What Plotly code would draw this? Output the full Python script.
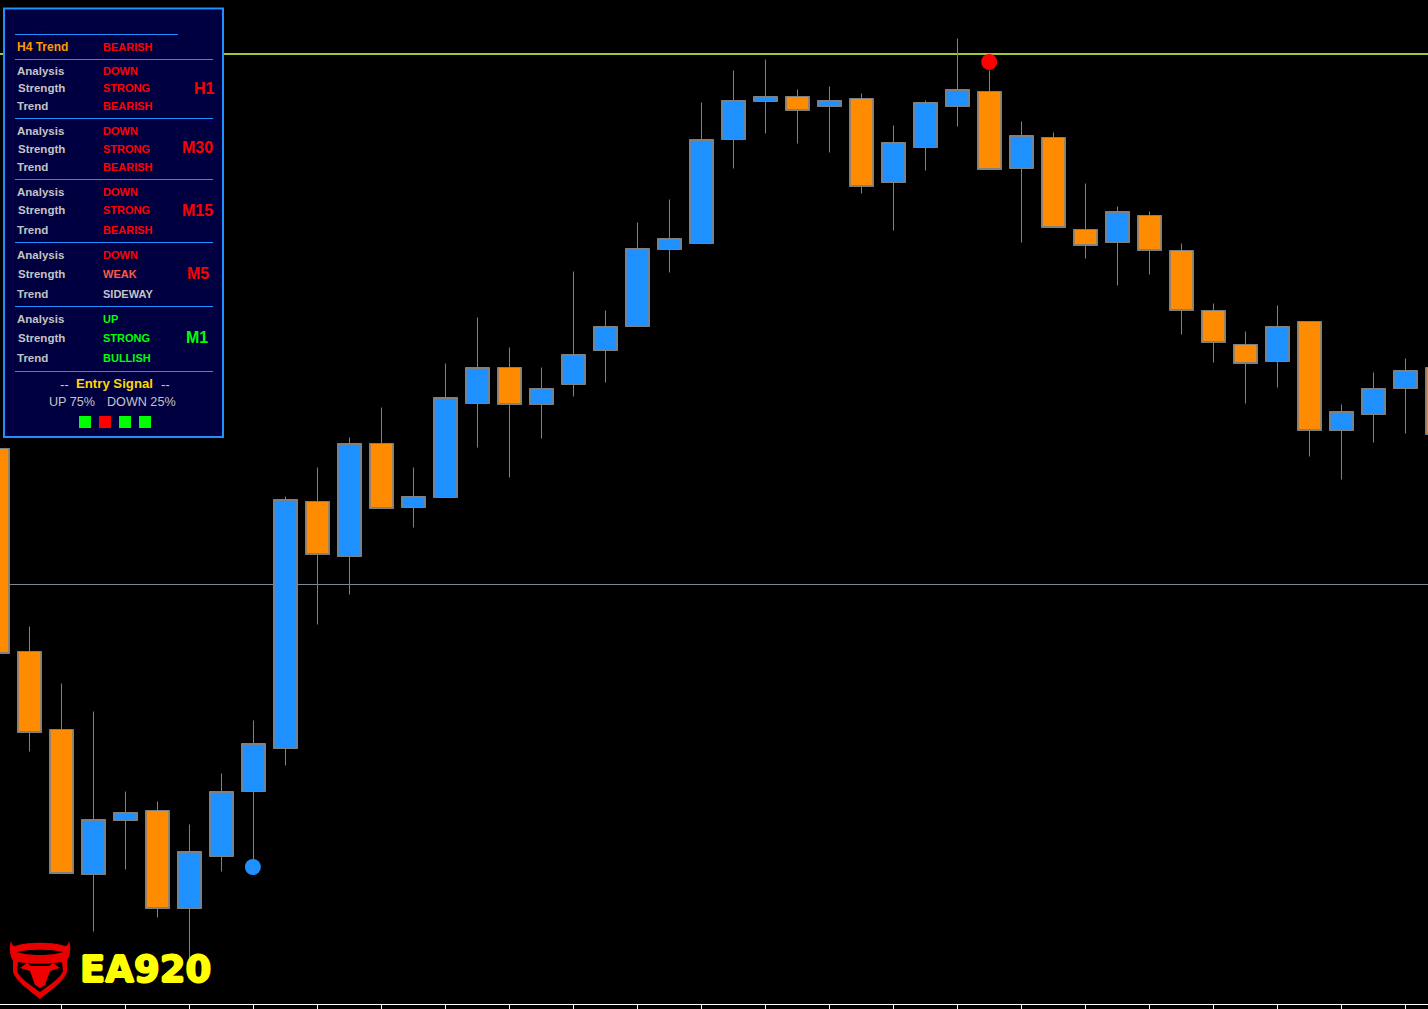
import plotly.graph_objects as go

W, H, PLOT_H = 1428, 1009, 1004

# candle series, index 0 is the bar cut by the left edge; prices are chart units
bar_index = list(range(46))
open_ = [556, 353, 275, 130, 184, 194, 96, 148, 213, 256, 503, 448, 561, 497, 507, 601, 637, 600, 620, 654, 678, 755, 761, 865, 903, 908, 898, 906, 822, 857, 898, 913, 836, 867, 775, 762, 789, 754, 694, 660, 643, 683, 574, 590, 616, 637]
high = [556, 378, 321, 293, 213, 203, 180, 231, 284, 508, 537, 567, 597, 537, 641, 687, 657, 637, 733, 694, 782, 805, 902, 934, 945, 915, 918, 911, 879, 904, 966, 934, 883, 872, 821, 798, 793, 761, 701, 673, 699, 683, 600, 632, 646, 637]
low = [351, 253, 131, 73, 135, 87, 36, 133, 144, 239, 380, 410, 496, 477, 507, 557, 527, 566, 608, 622, 678, 732, 761, 836, 871, 861, 852, 811, 774, 834, 878, 835, 762, 777, 746, 719, 730, 670, 642, 601, 617, 548, 525, 562, 571, 570]
close_ = [351, 272, 131, 185, 192, 96, 153, 213, 261, 505, 450, 561, 496, 508, 607, 637, 600, 616, 650, 678, 756, 766, 865, 904, 908, 894, 904, 818, 862, 902, 915, 835, 869, 777, 759, 793, 754, 694, 662, 641, 678, 574, 593, 616, 634, 570]

# chart annotations
level_upper = 950.5
level_lower = 420
signal_index = [7.98, 30.99]
signal_price = [137.5, 942.5]
signal_colour = ["#1E90FF", "#FF0000"]
axis_tick_step = 2

# dashboard texts
h4_row = ["H4 Trend", "BEARISH"]
timeframes = ["H1", "M30", "M15", "M5", "M1"]
analysis = ["DOWN", "DOWN", "DOWN", "DOWN", "UP"]
strength = ["STRONG", "STRONG", "STRONG", "WEAK", "STRONG"]
trend = ["BEARISH", "BEARISH", "BEARISH", "SIDEWAY", "BULLISH"]
entry_signal = "Entry Signal"
probabilities = ["UP 75%", "DOWN 25%"]
signal_squares = ["#00FF00", "#FF0000", "#00FF00", "#00FF00"]
brand = "EA920"

RED, GREEN, SILVER, TOMATO = "#FF0000", "#00FF00", "#C4C4C4", "#FF5A40"
BLUE, ORANGE, GREY = "#1E90FF", "#FF8C00", "#808080"
FONT = "Liberation Sans"


def px(x):
    return x / W


def py(y):
    return 1 - y / PLOT_H


def value_colour(word):
    if word in ("DOWN", "BEARISH"):
        return RED
    if word in ("UP", "BULLISH"):
        return GREEN
    if word == "WEAK":
        return TOMATO
    return SILVER


fig = go.Figure()
# wicks come from the candlestick, the full-width bodies from a bar trace above it
fig.add_trace(go.Candlestick(
    x=bar_index, open=open_, high=high, low=low, close=close_,
    increasing=dict(fillcolor=BLUE, line=dict(color=GREY, width=1)),
    decreasing=dict(fillcolor=ORANGE, line=dict(color=GREY, width=1)),
    hoverinfo="skip", showlegend=False,
))
fig.add_trace(go.Bar(
    x=bar_index,
    y=[abs(c - o) for o, c in zip(open_, close_)],
    base=[min(o, c) for o, c in zip(open_, close_)],
    width=0.75,
    marker=dict(color=[BLUE if c > o else ORANGE for o, c in zip(open_, close_)],
                line=dict(color=GREY, width=1)),
    hoverinfo="skip", showlegend=False,
))
fig.add_trace(go.Scatter(
    x=signal_index, y=signal_price, mode="markers",
    marker=dict(size=16, color=signal_colour, line=dict(width=0)),
    hoverinfo="skip", showlegend=False,
))

shapes = [
    dict(type="line", xref="paper", x0=0, x1=1, yref="y", y0=level_upper, y1=level_upper,
         line=dict(color="#9ACD32", width=2), layer="below"),
    dict(type="line", xref="paper", x0=0, x1=1, yref="y", y0=level_lower, y1=level_lower,
         line=dict(color="#778899", width=1), layer="below"),
]


def rect(x0, y0, x1, y1, fill, line=None, width=0):
    shapes.append(dict(type="rect", xref="paper", yref="paper",
                       x0=px(x0), x1=px(x1), y0=py(y0), y1=py(y1), fillcolor=fill,
                       line=dict(color=line or fill, width=width), layer="above"))


def hline(x0, x1, y, colour=BLUE):
    shapes.append(dict(type="line", xref="paper", yref="paper",
                       x0=px(x0), x1=px(x1), y0=py(y), y1=py(y),
                       line=dict(color=colour, width=1), layer="above"))


def path(points, fill):
    # points: list of SVG commands in pixel coordinates
    out = []
    for cmd, *xy in points:
        coords = " ".join(f"{px(xy[i]):.5f},{py(xy[i + 1]):.5f}" for i in range(0, len(xy), 2))
        out.append(f"{cmd}{coords}")
    shapes.append(dict(type="path", xref="paper", yref="paper",
                       path=" ".join(out) + " Z", fillcolor=fill,
                       line=dict(width=0), layer="above"))


annotations = []


def text(x, y, s, colour, size=11.5, bold=True, anchor="left", family=FONT, shadow=None):
    font = dict(family=family, size=size, color=colour)
    if shadow:
        font["shadow"] = shadow
    annotations.append(dict(
        xref="paper", yref="paper", x=px(x), y=py(y), text=f"<b>{s}</b>" if bold else s,
        showarrow=False, xanchor=anchor, yanchor="middle", align=anchor,
        font=font, borderpad=0, borderwidth=0,
    ))


# dashboard
rect(4, 8.5, 223, 437, "#000040", BLUE, 2)
hline(38, 45, 27, "#00006A")
hline(15, 178, 34.5)
for sep in (59.5, 118.5, 179.5, 242.5, 306.5, 371.5):
    hline(15, 213, sep)

text(17, 47, h4_row[0], "#FF9A00", size=12)
text(103, 47, h4_row[1], RED, size=11)

row_y = [(71, 88, 106), (131, 149, 167), (192, 210, 230), (255, 274, 294), (319, 338, 358)]
tf_y = [88, 148, 210, 273, 338]
tf_x = [215, 213, 213, 209, 208]
for k, tf in enumerate(timeframes):
    y1, y2, y3 = row_y[k]
    text(17, y1, "Analysis", SILVER)
    text(18, y2, "Strength", SILVER)
    text(17, y3, "Trend", SILVER)
    bullish_row = trend[k] == "BULLISH"
    text(103, y1, analysis[k], value_colour(analysis[k]), size=11)
    s_col = GREEN if bullish_row else TOMATO if strength[k] == "WEAK" else RED
    text(103, y2, strength[k], s_col, size=11)
    text(103, y3, trend[k], value_colour(trend[k]), size=11)
    text(tf_x[k], tf_y[k], tf, GREEN if bullish_row else RED, size=16, anchor="right")

text(60, 384, "--", "#FFD700", size=13, bold=False)
text(76, 383.5, entry_signal, "#FFD700", size=13.2)
text(161, 384, "--", "#FFD700", size=13, bold=False)
text(49, 402, probabilities[0], SILVER, size=12.6, bold=False)
text(107, 402, probabilities[1], SILVER, size=12.6, bold=False)
for n, colour in enumerate(signal_squares):
    rect(79 + 20 * n, 416, 91 + 20 * n, 428, colour)

# logo
path([("M", 11, 941), ("C", 8, 950, 11, 957, 13, 961), ("L", 13, 972),
      ("C", 16, 982, 32, 992, 40, 999), ("C", 48, 992, 64, 982, 67, 972), ("L", 67, 961),
      ("C", 69, 957, 72, 950, 69, 941), ("C", 68, 946, 66, 947, 62, 945),
      ("C", 50, 942, 30, 942, 18, 945), ("C", 14, 947, 12, 946, 11, 941)], "#E80000")
path([("M", 17, 952), ("C", 27, 949, 53, 949, 63, 952), ("C", 53, 956, 27, 956, 17, 952)], "#000000")
path([("M", 18, 962), ("C", 30, 964, 50, 964, 62, 962), ("L", 63, 971),
      ("C", 60, 979, 48, 986, 40, 992), ("C", 32, 986, 20, 979, 17, 971)], "#000000")
path([("M", 20, 968), ("L", 27, 963), ("L", 31, 966), ("L", 49, 966), ("L", 53, 963),
      ("L", 60, 968), ("L", 50, 971), ("L", 45, 985), ("L", 40, 988), ("L", 35, 985), ("L", 30, 971)], "#F00000")
text(79.5, 969, brand, "#FFFF00", size=37, family="DejaVu Sans",
     shadow="1px 0 0 #FFFF00, -1px 0 0 #FFFF00, 0 1px 0 #FFFF00, 0 -1px 0 #FFFF00")

fig.update_layout(
    width=W, height=H,
    margin=dict(l=0, r=0, t=0, b=H - PLOT_H, pad=0),
    paper_bgcolor="#000000", plot_bgcolor="#000000",
    boxgap=0, barmode="overlay", showlegend=False,
    shapes=shapes, annotations=annotations,
    xaxis=dict(range=[2.5 / 32, 1430.5 / 32], rangeslider=dict(visible=False), showgrid=False, zeroline=False,
               showticklabels=False, ticks="outside", ticklen=4, tickwidth=1, tickcolor="#FFFFFF",
               tick0=0, dtick=axis_tick_step, showline=True, linecolor="#FFFFFF", linewidth=1),
    yaxis=dict(range=[0.5, PLOT_H + 0.5], visible=False, showgrid=False, zeroline=False),
)

fig.write_html("out.html", config=dict(displayModeBar=False),
               post_script="document.body.style.margin='0';document.body.style.background='#000';document.body.style.overflow='hidden';")
